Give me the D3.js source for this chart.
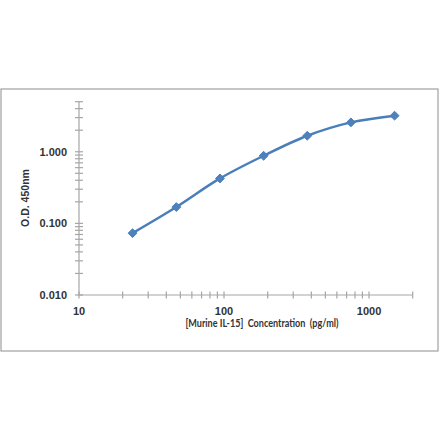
<!DOCTYPE html>
<html><head><meta charset="utf-8">
<script src="https://cdn.jsdelivr.net/npm/d3@7"></script>
<style>body{margin:0;background:#fff}svg{display:block}</style>
</head><body>
<svg id="c" width="440" height="441"></svg>
<script>
const concentration = [23.4, 46.9, 93.75, 187.5, 375, 750, 1500];
const od = [0.073, 0.169, 0.424, 0.879, 1.674, 2.57, 3.19];
const xTickLabels = [10, 100, 1000];
const yTickLabels = [0.01, 0.1, 1];
const xMinor = [20,30,40,50,60,70,80,90,200,300,400,500,600,700,800,900,2000];
const yMinor = [0.02,0.03,0.04,0.05,0.06,0.07,0.08,0.09,0.2,0.3,0.4,0.5,0.6,0.7,0.8,0.9,2,3,4,5];

const svg = d3.select("#c");
const axisColor = "#a6a6a6";
const blue = "#4a7ebb";

svg.append("rect").attr("x",1).attr("y",89).attr("width",437).attr("height",262)
  .attr("fill","#fff").attr("stroke","#a0a0a0").attr("stroke-width",1.2);

const x = d3.scaleLog().domain([10,2000]).range([79,412.7]);
const y = d3.scaleLog().domain([0.01,5]).range([295,101.7]);

// x axis
const gx = svg.append("g").attr("transform","translate(0,295)");
gx.append("line").attr("x1",x.range()[0]).attr("x2",x.range()[1]).attr("stroke",axisColor).attr("stroke-width",1.2);
gx.selectAll("line.t").data(xTickLabels.concat(xMinor)).join("line").attr("class","t")
  .attr("x1",d=>x(d)).attr("x2",d=>x(d)).attr("y1",-3.5).attr("y2",3.5)
  .attr("stroke",axisColor).attr("stroke-width",1.2);
gx.selectAll("text").data(xTickLabels).join("text")
  .attr("x",d=>x(d)).attr("y",20).attr("text-anchor","middle")
  .attr("font-family","Liberation Sans, Arial, sans-serif").attr("font-weight","bold")
  .attr("font-size",11).attr("fill","#333").text(d=>d3.format("d")(d));

// y axis
const gy = svg.append("g").attr("transform","translate(79,0)");
gy.append("line").attr("y1",y.range()[0]).attr("y2",y.range()[1]).attr("stroke",axisColor).attr("stroke-width",1.2);
gy.selectAll("line.t").data(yTickLabels.concat(yMinor)).join("line").attr("class","t")
  .attr("y1",d=>y(d)).attr("y2",d=>y(d)).attr("x1",-4).attr("x2",4)
  .attr("stroke",axisColor).attr("stroke-width",1.2);
gy.selectAll("text").data(yTickLabels).join("text")
  .attr("x",-12).attr("y",d=>y(d)+4).attr("text-anchor","end")
  .attr("font-family","Liberation Sans, Arial, sans-serif").attr("font-weight","bold")
  .attr("font-size",11).attr("fill","#333").text(d=>d3.format(".3f")(d));

// titles
svg.append("text").attr("x",262).attr("y",327).attr("text-anchor","middle")
  .attr("font-family","Lato, sans-serif").attr("font-weight","bold").attr("font-size",11.5).attr("fill","#333")
  .attr("textLength",153).attr("lengthAdjust","spacingAndGlyphs")
  .style("white-space","pre")
  .text("[Murine IL-15]  Concentration  (pg/ml)");
svg.append("text").attr("transform","translate(29,198) rotate(-90)").attr("text-anchor","middle")
  .attr("font-family","Liberation Sans, Arial, sans-serif").attr("font-weight","bold")
  .attr("font-size",10.5).attr("fill","#333").text("O.D. 450nm");

// series
const pts = concentration.map((c,i)=>[c, od[i]]);
const line = d3.line().x(d=>x(d[0])).y(d=>y(d[1])).curve(d3.curveCatmullRom.alpha(0.5));
svg.append("path").attr("d",line(pts)).attr("fill","none").attr("stroke",blue).attr("stroke-width",2.5);
svg.selectAll("path.m").data(pts).join("path").attr("class","m")
  .attr("transform",d=>`translate(${x(d[0])},${y(d[1])})`)
  .attr("d",d3.symbol(d3.symbolDiamond2,50)())
  .attr("fill","#4f81bd").attr("stroke",blue).attr("stroke-width",1);
</script>
</body></html>
